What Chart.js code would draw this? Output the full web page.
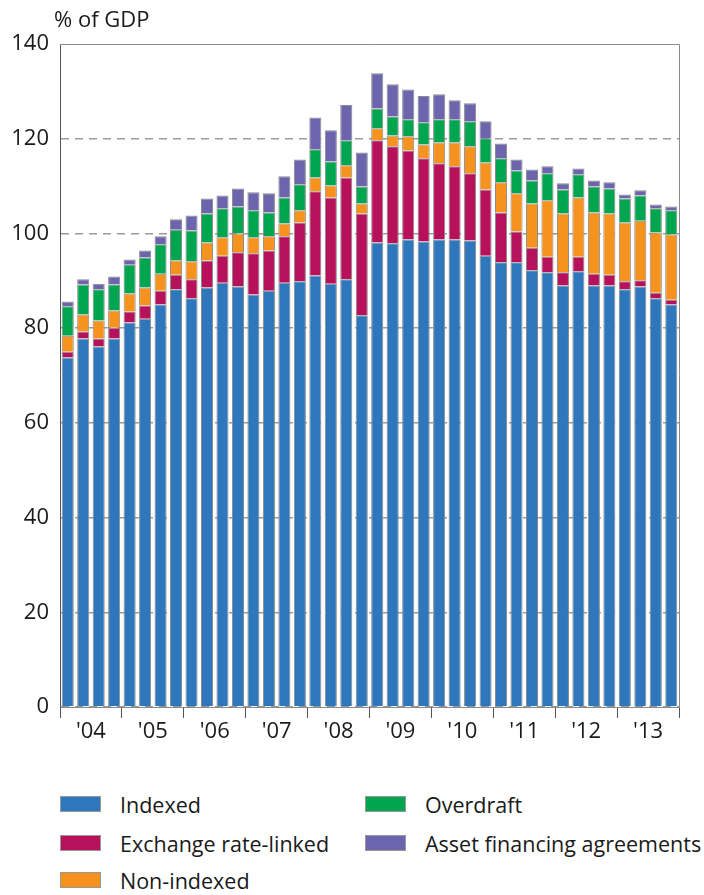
<!DOCTYPE html>
<html>
<head>
<meta charset="utf-8">
<script src="https://cdn.jsdelivr.net/npm/chart.js@4"></script>
<style>
html,body{margin:0;padding:0;background:#fff;}
#wrap{position:relative;width:704px;height:895px;overflow:hidden;}
#c{position:absolute;left:0;top:0;}
#title{position:absolute;left:54px;top:3px;font-family:'Open Sans',sans-serif;font-size:22px;line-height:30px;color:#1a1a1a;white-space:nowrap;}
.leg{position:absolute;height:30px;font-family:'Open Sans',sans-serif;font-size:21.5px;color:#1a1a1a;display:flex;align-items:center;white-space:nowrap;}
.leg .box{display:inline-block;width:41px;height:16px;margin-right:19px;box-sizing:border-box;border:1px solid #999;}
</style>
</head>
<body>
<div id="wrap">
<canvas id="c" width="704" height="747"></canvas>
<div id="title"></div>
</div>
<script>
// ---- data ----
const titleText = "% of GDP";
const quarters = [
 "2004Q1","2004Q2","2004Q3","2004Q4","2005Q1","2005Q2","2005Q3","2005Q4",
 "2006Q1","2006Q2","2006Q3","2006Q4","2007Q1","2007Q2","2007Q3","2007Q4",
 "2008Q1","2008Q2","2008Q3","2008Q4","2009Q1","2009Q2","2009Q3","2009Q4",
 "2010Q1","2010Q2","2010Q3","2010Q4","2011Q1","2011Q2","2011Q3","2011Q4",
 "2012Q1","2012Q2","2012Q3","2012Q4","2013Q1","2013Q2","2013Q3","2013Q4"
];
const yearLabels = ["'04","'05","'06","'07","'08","'09","'10","'11","'12","'13"];
const yTicks = [0,20,40,60,80,100,120,140];

const indexed = [73.8,77.8,76.1,77.8, 81.2,82.0,85.0,88.2, 86.3,88.6,89.6,88.8, 87.1,87.9,89.6,89.9,
                 91.1,89.4,90.3,82.7, 98.1,97.9,98.7,98.3, 98.7,98.7,98.5,95.3, 93.9,93.9,92.2,91.8,
                 89.0,92.0,89.0,89.0, 88.2,88.8,86.3,85.0];
const exchangeRateLinked = [1.2,1.5,1.7,2.3, 2.3,2.8,2.9,3.1, 4.0,5.7,5.7,7.2, 8.7,8.5,9.8,12.4,
                 17.8,18.2,21.5,21.5, 21.6,20.5,18.8,17.6, 16.1,15.5,14.2,14.0, 10.5,6.5,4.8,3.3,
                 2.8,3.1,2.5,2.3, 1.7,1.3,1.2,1.0];
const nonIndexed = [3.4,3.6,3.8,3.6, 3.8,3.8,3.6,3.0, 3.8,3.8,3.9,4.0, 3.4,3.0,2.7,2.6,
                 2.9,2.5,2.6,2.1, 2.5,2.3,3.0,2.9, 4.4,5.0,5.7,5.7, 6.4,8.1,9.3,11.9,
                 12.4,12.5,12.9,12.9, 12.4,12.6,12.7,13.8];
const overdraft = [6.2,6.3,6.6,5.5, 6.1,6.3,6.2,6.5, 6.5,6.1,6.1,5.7, 5.7,5.0,5.5,5.5,
                 6.0,5.1,5.3,3.6, 4.2,4.0,3.6,4.7, 4.9,4.9,5.3,5.1, 5.1,4.8,4.9,5.7,
                 5.1,4.9,5.5,5.3, 5.1,5.3,5.1,5.1];
const assetFinancing = [1.0,1.1,1.2,1.7, 1.1,1.5,1.7,2.2, 3.2,3.2,2.7,3.8, 3.8,4.1,4.5,5.2,
                 6.7,6.6,7.4,7.2, 7.4,6.8,6.3,5.5, 5.3,4.0,3.8,3.6, 3.1,2.3,2.3,1.5,
                 1.3,1.2,1.3,1.3, 0.8,1.1,0.8,0.8];

const seriesNames = ["Indexed","Exchange rate-linked","Non-indexed","Overdraft","Asset financing agreements"];
const seriesValues = [indexed, exchangeRateLinked, nonIndexed, overdraft, assetFinancing];
const seriesColors = ["#2e77bc","#b7115b","#f6931e","#00a54f","#6c64ad"];

document.getElementById('title').textContent = titleText;

// ---- legend (HTML, two columns) ----
const legendSlots = [
  {i:0,left:60,top:789},{i:3,left:365,top:789},
  {i:1,left:60,top:828},{i:4,left:365,top:828},
  {i:2,left:60,top:865}
];
const wrap = document.getElementById('wrap');
legendSlots.forEach(s => {
  const d = document.createElement('div');
  d.className = 'leg';
  d.style.left = s.left + 'px';
  d.style.top = s.top + 'px';
  const b = document.createElement('span');
  b.className = 'box';
  b.style.background = seriesColors[s.i];
  d.appendChild(b);
  d.appendChild(document.createTextNode(seriesNames[s.i]));
  wrap.appendChild(d);
});

// ---- frame plugin (top and right border of plot area) ----
const framePlugin = {
  id: 'frame',
  beforeDatasetsDraw(chart) {
    const {ctx, chartArea: a} = chart;
    ctx.save();
    ctx.strokeStyle = '#8a8a8a';
    ctx.lineWidth = 1;
    ctx.beginPath();
    const t = Math.round(a.top) + 0.5, r = Math.round(a.right) + 0.5;
    ctx.moveTo(Math.round(a.left), t);
    ctx.lineTo(r, t);
    ctx.lineTo(r, a.bottom);
    ctx.stroke();
    ctx.restore();
  }
};

const FONT = 'Open Sans';
function draw() {
  new Chart(document.getElementById('c'), {
    type: 'bar',
    data: {
      labels: quarters,
      datasets: seriesNames.map((n, k) => ({
        label: n,
        data: seriesValues[k],
        backgroundColor: seriesColors[k],
        borderColor: '#8a8a8a',
        borderWidth: {top: 1, left: 1, right: 1, bottom: 0},
        borderSkipped: false,
        barPercentage: 0.78,
        categoryPercentage: 1.0
      }))
    },
    options: {
      responsive: false,
      animation: false,
      devicePixelRatio: 1,
      layout: {padding: {left: 0, right: 25, top: 44, bottom: 0}},
      plugins: {
        legend: {display: false},
        tooltip: {enabled: false},
        title: {display: false}
      },
      scales: {
        x: {type: 'category', stacked: true, display: false, offset: true},
        x2: {
          type: 'linear', position: 'bottom', min: 0, max: 40, offset: false,
          afterFit(s) { s.height = 40; },
          afterBuildTicks(s) {
            const t = [];
            for (let v = 0; v <= 40; v += 2) t.push({value: v});
            s.ticks = t;
          },
          ticks: {
            autoSkip: false, maxRotation: 0, minRotation: 0, padding: 1,
            color: '#1a1a1a', font: {family: FONT, size: 22},
            callback: (v) => (v % 4 === 2 ? yearLabels[(v - 2) / 4] : '')
          },
          grid: {
            offset: false, drawOnChartArea: false, drawTicks: true, tickLength: 11, lineWidth: 1,
            color: (c) => (c.tick && c.tick.value % 4 === 0 ? '#555' : 'rgba(0,0,0,0)')
          },
          border: {display: true, color: '#8a8a8a'}
        },
        y: {
          stacked: true, min: 0, max: 140,
          afterFit(s) { s.width = 60; },
          afterBuildTicks(s) { s.ticks = yTicks.map(v => ({value: v})); },
          ticks: {color: '#1a1a1a', padding: 11, font: {family: FONT, size: 22}},
          grid: {
            color: (c) => (c.tick && c.tick.value === 140 ? 'rgba(0,0,0,0)' : '#9a9a9a'),
            lineWidth: 1.5, drawTicks: false
          },
          border: {display: true, color: '#555', width: 1, dash: [8, 6]}
        }
      }
    },
    plugins: [framePlugin]
  });
}
if (document.fonts && document.fonts.load) {
  document.fonts.load('22px "Open Sans"').then(draw, draw);
} else { draw(); }
</script>
</body>
</html>
